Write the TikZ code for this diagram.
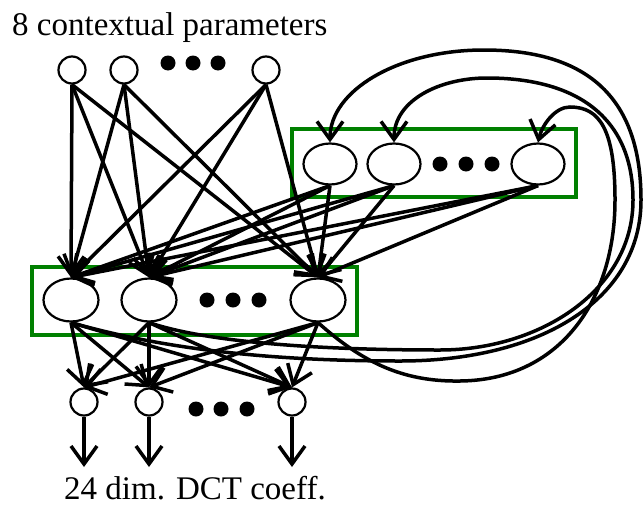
\documentclass[tikz,border=0pt]{standalone}
\usepackage{fontspec}
\setmainfont{Liberation Serif}
\usetikzlibrary{shapes.geometric,arrows.meta}
\definecolor{boxgreen}{RGB}{0,128,0}
\tikzset{
  unit/.style={circle, draw, line width=2.2pt, minimum size=27pt, inner sep=0pt},
  hidden/.style={ellipse, draw, line width=2.2pt, minimum width=53pt, minimum height=41pt, inner sep=0pt},
  bigdot/.style={circle, fill, inner sep=0pt, minimum size=15pt},
  layerbox/.style={draw=boxgreen, line width=3.6pt},
  link/.style={line width=3.5pt, -{Straight Barb[length=18pt,width=26pt,line width=3.5pt]}},
  caption/.style={anchor=base west, inner sep=0pt, text depth=0pt, font=\fontsize{33}{40}\selectfont},
}

\begin{document}
\begin{tikzpicture}[x=1pt,y=-1pt]
\useasboundingbox (0,0) rectangle (644,506);
% labels
\node[caption] (intext) at (12,35) {8 contextual parameters};
\node[caption] (outtext) at (64,499) {24 dim. DCT coeff.};
% layer boxes
\draw[layerbox] (292,129) rectangle (576,197);
\draw[layerbox] (32,267) rectangle (357,335);
% input units
\node[unit] (in1) at (72,70) {};
\node[unit] (in2) at (124,70) {};
\node[unit] (in3) at (266,70) {};
\node[bigdot] (ind1) at (168,63) {};
\node[bigdot] (ind2) at (193,63) {};
\node[bigdot] (ind3) at (218,63) {};
% context units
\node[hidden] (u1) at (330,164) {};
\node[hidden] (u2) at (394,164) {};
\node[hidden] (u3) at (538,164) {};
\node[bigdot] (ud1) at (440,164) {};
\node[bigdot] (ud2) at (466,164) {};
\node[bigdot] (ud3) at (492,164) {};
% hidden units
\node[hidden, minimum width=55pt, minimum height=43pt] (h1) at (71,300) {};
\node[hidden, minimum width=55pt, minimum height=43pt] (h2) at (149,300) {};
\node[hidden, minimum width=55pt, minimum height=43pt] (h3) at (318,300) {};
\node[bigdot] (hd1) at (207,300) {};
\node[bigdot] (hd2) at (233,300) {};
\node[bigdot] (hd3) at (259,300) {};
% output units
\node[unit] (o1) at (84,402) {};
\node[unit] (o2) at (149,402) {};
\node[unit] (o3) at (292,402) {};
\node[bigdot] (od1) at (196,409) {};
\node[bigdot] (od2) at (221,409) {};
\node[bigdot] (od3) at (247,409) {};
\coordinate (y1) at (84,467);
\coordinate (y2) at (149,467);
\coordinate (y3) at (292,467);
% input -> hidden
\draw[link] (in1.south) -- (h1.north);
\draw[link] (in1.south) -- (h2.north);
\draw[link] (in1.south) -- (h3.north);
\draw[link] (in2.south) -- (h1.north);
\draw[link] (in2.south) -- (h2.north);
\draw[link] (in2.south) -- (h3.north);
\draw[link] (in3.south) -- (h1.north);
\draw[link] (in3.south) -- (h2.north);
\draw[link] (in3.south) -- (h3.north);
% context -> hidden
\draw[link] (u1.south) -- (h1.north);
\draw[link] (u1.south) -- (h2.north);
\draw[link] (u1.south) -- (h3.north);
\draw[link] (u2.south) -- (h1.north);
\draw[link] (u2.south) -- (h2.north);
\draw[link] (u2.south) -- (h3.north);
\draw[link] (u3.south) -- (h1.north);
\draw[link] (u3.south) -- (h2.north);
\draw[link] (u3.south) -- (h3.north);
% hidden -> output
\draw[link] (h1.south) -- (o1.north);
\draw[link] (h1.south) -- (o2.north);
\draw[link] (h1.south) -- (o3.north);
\draw[link] (h2.south) -- (o1.north);
\draw[link] (h2.south) -- (o2.north);
\draw[link] (h2.south) -- (o3.north);
\draw[link] (h3.south) -- (o1.north);
\draw[link] (h3.south) -- (o2.north);
\draw[link] (h3.south) -- (o3.north);
\draw[link] (o1.south) -- (y1);
\draw[link] (o2.south) -- (y2);
\draw[link] (o3.south) -- (y3);
% hidden -> context (recurrent)
\draw[link] (h1.south) .. controls (150,345) and (250,361) .. (400,361)
  .. controls (540,361) and (641,300) .. (641,200)
  .. controls (641,100) and (590,50) .. (484,50)
  .. controls (397,50) and (330,91) .. (u1.north);
\draw[link] (h2.south) .. controls (200,340) and (300,350) .. (440,350)
  .. controls (540,350) and (633,290) .. (633,200)
  .. controls (633,120) and (580,78) .. (487,78)
  .. controls (440,78) and (394,100) .. (u2.north);
\draw[link] (h3.south) .. controls (360,360) and (400,382) .. (460,381)
  .. controls (560,380) and (615,300) .. (615,200)
  .. controls (615,130) and (600,107) .. (570,107)
  .. controls (555,107) and (542,125) .. (u3.north);
\end{tikzpicture}
\end{document}
